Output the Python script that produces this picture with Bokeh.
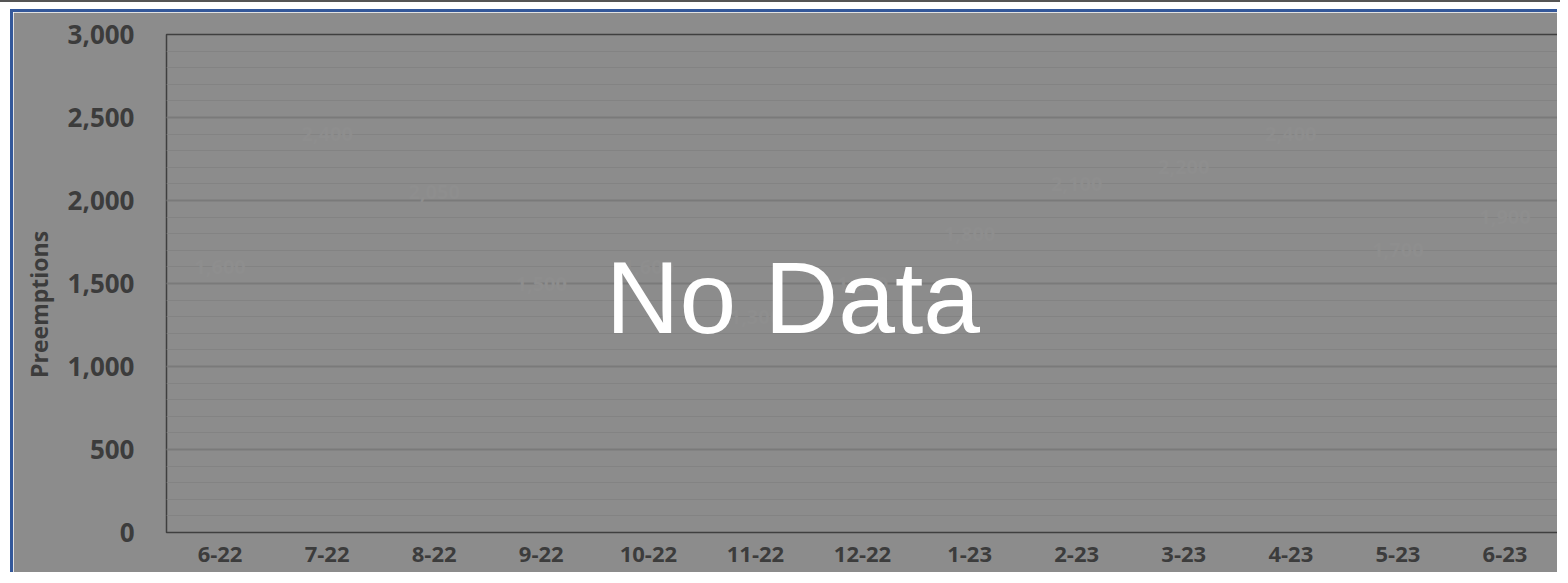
from bokeh.plotting import figure
from bokeh.layouts import column, row
from bokeh.models import (FactorRange, Range1d, SingleIntervalTicker, NumeralTickFormatter,
                          Label, ColumnDataSource, Spacer)
from bokeh.embed import file_html
from bokeh.resources import INLINE
from bokeh.core.properties import value

months = ["6-22", "7-22", "8-22", "9-22", "10-22", "11-22", "12-22",
          "1-23", "2-23", "3-23", "4-23", "5-23", "6-23"]
preemptions = [1600, 2400, 2050, 1500, 1600, 1300, 1500, 1800, 2100, 2200, 2400, 1700, 1900]
y_label = "Preemptions"
overlay_text = "No Data"

BG = "#8c8c8c"
TXT = "#3c3c3c"

p = figure(x_range=FactorRange(*months), y_range=Range1d(0, 3000),
           width=1547, height=563, output_backend="svg", toolbar_location=None,
           min_border_left=153, min_border_right=2, min_border_top=22, min_border_bottom=43,
           background_fill_color=BG, border_fill_color=BG)
p.styles = {"border-left": "3px solid #34589a", "border-top": "3px solid #34589a"}

p.outline_line_color = "#3f3f3f"
p.outline_line_width = 1.5

# y axis
p.yaxis.ticker = SingleIntervalTicker(interval=500, num_minor_ticks=5)
p.yaxis.formatter = NumeralTickFormatter(format="0,0")
p.yaxis.axis_line_color = None
p.yaxis.major_tick_line_color = None
p.yaxis.minor_tick_line_color = None
p.yaxis.major_label_standoff = 26
p.yaxis.major_label_text_font = "Open Sans"
p.yaxis.major_label_text_font_style = "bold"
p.yaxis.major_label_text_font_size = "26px"
p.yaxis.major_label_text_color = TXT
p.yaxis.axis_label = y_label + "\u00a0" * 7
p.yaxis.axis_label_standoff = 10
p.yaxis.axis_label_text_font = "Open Sans"
p.yaxis.axis_label_text_font_style = "bold"
p.yaxis.axis_label_text_font_size = "23px"
p.yaxis.axis_label_text_color = TXT

# x axis
p.xaxis.axis_line_color = None
p.xaxis.major_tick_line_color = None
p.xaxis.minor_tick_line_color = None
p.xaxis.major_label_standoff = 8
p.xaxis.major_label_text_font = "Open Sans"
p.xaxis.major_label_text_font_style = "bold"
p.xaxis.major_label_text_font_size = "22px"
p.xaxis.major_label_text_color = TXT

p.xgrid.grid_line_color = None
p.ygrid.grid_line_color = "#7a7a7a"
p.ygrid.grid_line_width = 2
p.ygrid.minor_grid_line_color = "#838383"
p.ygrid.minor_grid_line_width = 1

# hidden data labels (almost the background colour)
src = ColumnDataSource(dict(m=months, v=preemptions, t=[f"{v:,}" for v in preemptions]))
p.text(x="m", y="v", text="t", source=src, text_align="center", text_baseline="middle",
       text_color="#8e8e8e", text_font=value("Open Sans"),
       text_font_size="20px", text_font_style="bold")

# "No Data" overlay
p.add_layout(Label(x=5.85, y=1410, text=overlay_text, text_align="center",
                   text_baseline="middle", text_font="Liberation Sans",
                   text_font_size="102px", text_color="#ffffff"))

top = Spacer(width=1560, height=9, styles={"border-top": "2px solid #555555"})
layout = column(top, row(Spacer(width=10, height=563), p))

open("out.html", "w").write(file_html(layout, INLINE))
